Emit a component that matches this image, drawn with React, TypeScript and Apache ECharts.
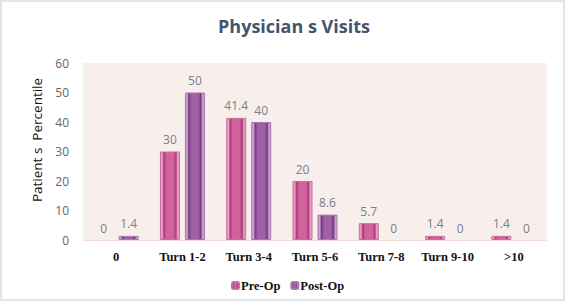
import React, { useEffect, useRef } from "react";
import * as echarts from "echarts";

const categories = ["0", "Turn 1-2", "Turn 3-4", "Turn 5-6", "Turn 7-8", "Turn 9-10", ">10"];
const preOp = [0, 30, 41.4, 20, 5.7, 1.4, 1.4];
const postOp = [1.4, 50, 40, 8.6, 0, 0, 0];
const yTicks = { min: 0, max: 60, interval: 10 };

function bevel(edge: string, mid: string, light: string) {
  return new echarts.graphic.LinearGradient(0, 0, 1, 0, [
    { offset: 0, color: light },
    { offset: 0.1, color: light },
    { offset: 0.18, color: edge },
    { offset: 0.32, color: mid },
    { offset: 0.68, color: mid },
    { offset: 0.82, color: edge },
    { offset: 0.9, color: light },
    { offset: 1, color: light },
  ]);
}

function items(values: number[]) {
  return values.map((v) => (v === 0 ? { value: v, itemStyle: { borderWidth: 0 } } : v));
}

export default function App() {
  const ref = useRef<HTMLDivElement>(null);
  useEffect(() => {
    document.body.style.margin = "0";
    const chart = echarts.init(ref.current!, null, { renderer: "svg" });
    const labelStyle = {
      show: true,
      position: "top" as const,
      distance: 6,
      color: "#7a7f88",
      fontFamily: "Open Sans",
      fontSize: 12,
    };
    chart.setOption({
      animation: false,
      backgroundColor: "#ffffff",
      title: {
        text: "Physician s Visits",
        left: 289,
        textAlign: "center",
        top: 12,
        textStyle: { fontFamily: "Open Sans", fontWeight: "bold", fontSize: 18, color: "#44546a" },
      },
      graphic: [
        {
          type: "rect",
          shape: { x: 1, y: 1, width: 563, height: 299 },
          style: { fill: "none", stroke: "#e1e6ed", lineWidth: 2 },
          z: 100,
          silent: true,
        },
        {
          type: "text",
          x: 37,
          y: 140,
          rotation: Math.PI / 2,
          style: {
            text: "Patient s  Percentile",
            fontFamily: "Open Sans",
            fontSize: 13.5,
            fill: "#111",
            align: "center",
            verticalAlign: "middle",
          },
        },
      ],
      legend: {
        data: ["Pre-Op", "Post-Op"],
        left: 226,
        top: 274,
        itemWidth: 7,
        itemHeight: 7,
        itemGap: 10,
        textStyle: { fontFamily: "Liberation Serif", fontWeight: "bold", fontSize: 12.5, color: "#111", padding: [0, 0, 0, -3] },
      },
      grid: {
        left: 83,
        right: 18,
        top: 63,
        bottom: 61,
        show: true,
        backgroundColor: "#f8eeec",
        borderWidth: 0,
      },
      xAxis: {
        type: "category",
        data: categories,
        axisLine: { show: true, lineStyle: { color: "#f3dde0" } },
        axisTick: { show: false },
        axisLabel: { interval: 0, fontFamily: "Liberation Serif", fontWeight: "bold", fontSize: 12.5, color: "#111", margin: 10 },
      },
      yAxis: {
        type: "value",
        min: yTicks.min,
        max: yTicks.max,
        interval: yTicks.interval,
        splitLine: { show: false },
        axisLine: { show: false },
        axisTick: { show: false },
        axisLabel: { fontFamily: "Open Sans", fontSize: 12, color: "#666", margin: 14 },
      },
      series: [
        {
          name: "Pre-Op",
          type: "bar",
          data: items(preOp),
          barWidth: 20,
          barGap: "25%",
          itemStyle: {
            color: bevel("#a83c77", "#d2629d", "#e99cc3"),
            borderColor: "#c7709f",
            borderWidth: 1,
          },
          label: labelStyle,
        },
        {
          name: "Post-Op",
          type: "bar",
          data: items(postOp),
          barWidth: 20,
          barGap: "25%",
          itemStyle: {
            color: bevel("#743a7e", "#a060a8", "#c9a0cf"),
            borderColor: "#a878ad",
            borderWidth: 1,
          },
          label: labelStyle,
        },
      ],
    });
    return () => chart.dispose();
  }, []);
  return <div ref={ref} style={{ width: 565, height: 301, position: "absolute", left: 0, top: 0 }} />;
}
